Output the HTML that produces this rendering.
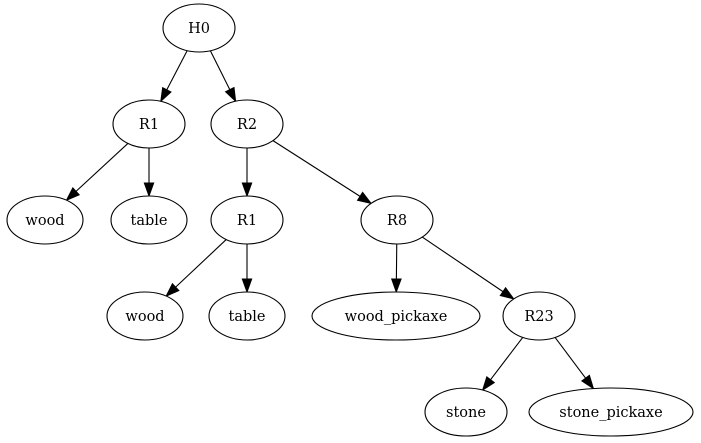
<!DOCTYPE html>
<html><head><style>html,body{margin:0;padding:0;background:#fff}svg{display:block}</style></head>
<body>
<svg id="g" width="701" height="443" viewBox="0 0 701 443" xmlns="http://www.w3.org/2000/svg" font-family="DejaVu Serif, serif" font-size="14.5">
<g id="e"></g>
<g fill="white" stroke="black" stroke-width="1.1">
<ellipse cx="199" cy="28" rx="36" ry="24"/>
<ellipse cx="149" cy="124" rx="36" ry="24"/>
<ellipse cx="247" cy="124" rx="36" ry="24"/>
<ellipse cx="45" cy="220" rx="38" ry="24"/>
<ellipse cx="149" cy="220" rx="38" ry="24"/>
<ellipse cx="247" cy="220" rx="36" ry="24"/>
<ellipse cx="397" cy="220" rx="36" ry="24"/>
<ellipse cx="145" cy="316" rx="38" ry="24"/>
<ellipse cx="247" cy="316" rx="38" ry="24"/>
<ellipse cx="396" cy="316" rx="84" ry="24"/>
<ellipse cx="539" cy="316" rx="36" ry="24"/>
<ellipse cx="466" cy="412" rx="41" ry="24"/>
<ellipse cx="611" cy="412" rx="82" ry="24"/>
</g>
<g text-anchor="middle" fill="black">
<text x="199" y="33">H0</text>
<text x="149" y="129">R1</text>
<text x="247" y="129">R2</text>
<text x="45" y="225">wood</text>
<text x="149" y="225">table</text>
<text x="247" y="225">R1</text>
<text x="397" y="225">R8</text>
<text x="145" y="321">wood</text>
<text x="247" y="321">table</text>
<text x="396" y="321">wood_pickaxe</text>
<text x="539" y="321">R23</text>
<text x="466" y="417">stone</text>
<text x="611" y="417">stone_pickaxe</text>
</g>
</svg>
<script>
var N={H0:[199,28,36],R1:[149,124,36],R2:[247,124,36],w1:[45,220,38],t1:[149,220,38],R1b:[247,220,36],R8:[397,220,36],w2:[145,316,38],t2:[247,316,38],wp:[396,316,84],R23:[539,316,36],s:[466,412,41],sp:[611,412,82]};
var E=[["H0","R1"],["H0","R2"],["R1","w1"],["R1","t1"],["R2","R1b"],["R2","R8"],["R1b","w2"],["R1b","t2"],["R8","wp"],["R8","R23"],["R23","s"],["R23","sp"]];
function bd(n,dx,dy){var a=n[2],b=24,t=1/Math.sqrt(dx*dx/(a*a)+dy*dy/(b*b));return[n[0]+dx*t,n[1]+dy*t];}
var h="";
E.forEach(function(e){var A=N[e[0]],B=N[e[1]];var dx=B[0]-A[0],dy=B[1]-A[1];
var p=bd(A,dx,dy),q=bd(B,-dx,-dy);var L=Math.hypot(q[0]-p[0],q[1]-p[1]);var ux=(q[0]-p[0])/L,uy=(q[1]-p[1])/L;
var bx=q[0]-ux*13,by=q[1]-uy*13;
h+='<line x1="'+p[0]+'" y1="'+p[1]+'" x2="'+bx+'" y2="'+by+'" stroke="black" stroke-width="1.1"/>';
h+='<polygon points="'+q[0]+','+q[1]+' '+(bx-uy*4.7)+','+(by+ux*4.7)+' '+(bx+uy*4.7)+','+(by-ux*4.7)+'" fill="black" stroke="black"/>';});
document.getElementById("e").innerHTML=h;
</script>
</body></html>
